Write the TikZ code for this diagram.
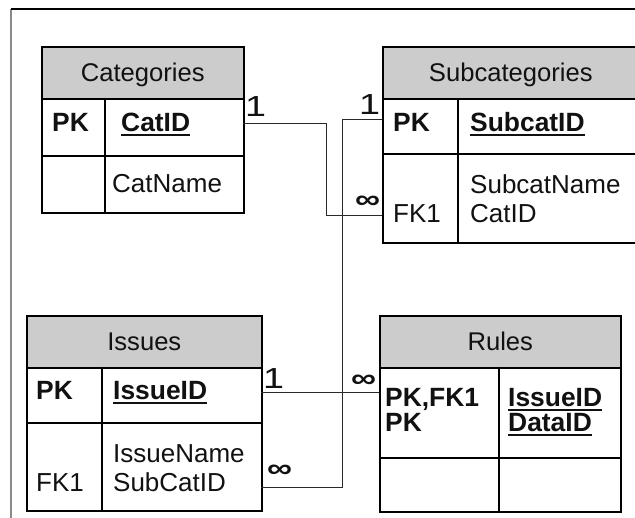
\documentclass[tikz,border=0pt]{standalone}
\usepackage{fontspec}
\usepackage{graphicx}
\setmainfont{Liberation Sans}
\definecolor{headgray}{HTML}{CCCCCC}
\definecolor{linkgray}{HTML}{2A2A2A}
\definecolor{framegray}{HTML}{8A8A8A}
\definecolor{inkblack}{HTML}{111111}
% underlined key column names
\newcommand\keyname[1]{\setbox0\hbox{#1}\rlap{\vrule width\wd0 height -1.8pt depth 4.4pt}\box0}
\newcommand\many{\resizebox{25pt}{12.5pt}{\bfseries ∞}}
\newcommand\one{\scalebox{1.3}[1]{1}}
\begin{document}
\begin{tikzpicture}[x=1pt,y=-1pt,
  tbl/.style={draw=black, line width=1.6pt},
  hdr/.style={tbl, fill=headgray, anchor=north west, inner sep=0pt,
    text height=18pt, text depth=0pt, font=\fontsize{25.6}{28}\selectfont, text=inkblack},
  cellbox/.style={tbl, anchor=north west, inner sep=0pt},
  txt/.style={anchor=base west, inner sep=0pt, font=\fontsize{26}{28}\selectfont, text=inkblack},
  keytxt/.style={txt, font=\fontsize{26.4}{28}\selectfont\bfseries},
  card/.style={anchor=base west, inner sep=0pt, font=\fontsize{29}{30}\selectfont, text=inkblack},
  crow/.style={anchor=center, inner sep=0pt, text=inkblack},
  link/.style={draw=linkgray, line width=0.9pt}]

\useasboundingbox (0,0) rectangle (635,518);
\clip (0,0) rectangle (635,518);
\fill[white] (0,0) rectangle (635,518);

% page frame
\draw[framegray, line width=1.6pt] (11,9) -- (11,518);
\draw[black, line width=1.2pt] (11,9) -- (635,9);

% ---- Categories
\node[hdr, minimum width=202pt, minimum height=52pt] (cat) at (41,46) {Categories};
\node[cellbox, minimum width=202pt, minimum height=57pt] (catK) at (41,98) {};
\node[cellbox, minimum width=202pt, minimum height=57pt] (catA) at (41,155) {};
\draw[tbl] (105,98) -- (105,212);
\node[keytxt] (catPK) at (52,132) {PK};
\node[keytxt] (catID) at (121,132) {\keyname{CatID}};
\node[txt] (catName) at (112,193) {CatName};

% ---- Subcategories (runs past the right edge)
\node[hdr, minimum width=268pt, minimum height=52pt] (sub) at (382,46) {\hspace*{-12pt}Subcategories};
\node[cellbox, minimum width=268pt, minimum height=55pt] (subK) at (382,98) {};
\node[cellbox, minimum width=268pt, minimum height=89pt] (subA) at (382,153) {};
\draw[tbl] (458,98) -- (458,242);
\node[keytxt] (subPK) at (393,132) {PK};
\node[keytxt] (subID) at (470,132) {\keyname{SubcatID}};
\node[txt] (subName) at (470,194) {SubcatName};
\node[txt] (subCat) at (470,223) {CatID};
\node[txt] (subFK) at (393,223) {FK1};

% ---- Issues
\node[hdr, minimum width=235pt, minimum height=52pt] (iss) at (26,315) {Issues};
\node[cellbox, minimum width=235pt, minimum height=55pt] (issK) at (26,367) {};
\node[cellbox, minimum width=235pt, minimum height=88pt] (issA) at (26,422) {};
\draw[tbl] (102,367) -- (102,510);
\node[keytxt] (issPK) at (36,400) {PK};
\node[keytxt] (issID) at (113,400) {\keyname{IssueID}};
\node[txt] (issName) at (113,463) {IssueName};
\node[txt] (issSub) at (113,492) {SubCatID};
\node[txt] (issFK) at (36,492) {FK1};

% ---- Rules
\node[hdr, minimum width=241pt, minimum height=52pt] (rul) at (379,315) {Rules};
\node[cellbox, minimum width=241pt, minimum height=90pt] (rulK) at (379,367) {};
\node[cellbox, minimum width=241pt, minimum height=54pt] (rulA) at (379,457) {};
\draw[tbl] (499,367) -- (499,511);
\node[keytxt] (rulPK1) at (385,407) {PK,FK1};
\node[keytxt] (rulPK2) at (385,432) {PK};
\node[keytxt] (rulIss) at (508,407) {\keyname{IssueID}};
\node[keytxt] (rulData) at (508,432) {\keyname{DataID}};

% ---- relationship end points
\coordinate (catOut) at (243,123);
\coordinate (subIn)  at (382,215);
\coordinate (subOut) at (382,119);
\coordinate (issIn)  at (261,487);
\coordinate (issOut) at (261,392);
\coordinate (rulIn)  at (379,392);

% ---- relationships
\draw[link] (catOut) -- ++(83,0) |- (subIn);
\draw[link] (subOut) -- ++(-40,0) |- (issIn);
\draw[link] (issOut) -- (rulIn);

% ---- cardinalities
\node[card] (c1) at (245,117) {\one};
\node[crow] (m1) at (367.5,202.5) {\many};
\node[card] (c2) at (359,115) {\one};
\node[crow] (m2) at (279.5,471.5) {\many};
\node[card] (c3) at (263,388.5) {\one};
\node[crow] (m3) at (363.5,381.5) {\many};
\end{tikzpicture}
\end{document}
